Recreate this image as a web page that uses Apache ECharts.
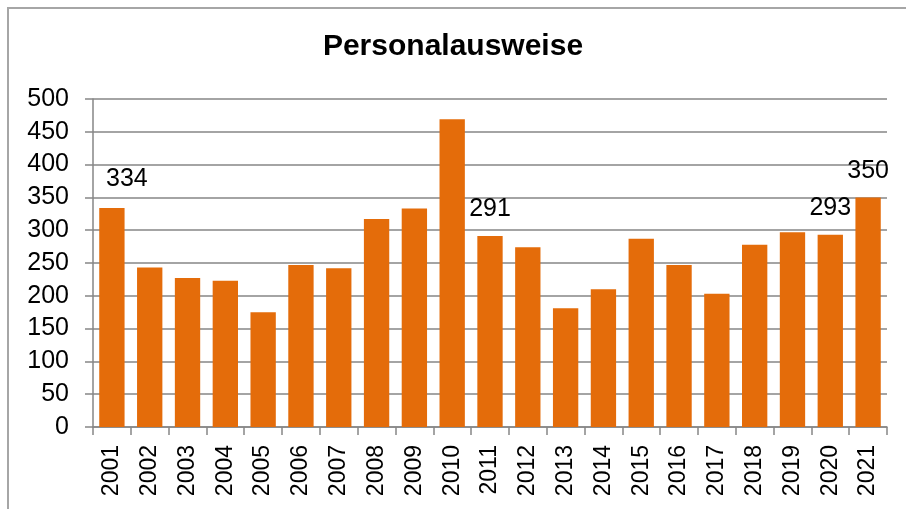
<!DOCTYPE html>
<html>
<head>
<meta charset="utf-8">
<title>Personalausweise</title>
<script src="https://cdn.jsdelivr.net/npm/echarts@6/dist/echarts.min.js"></script>
<style>
html,body{margin:0;padding:0;background:#fff;}
#main{width:906px;height:509px;}
</style>
</head>
<body>
<div id="main"></div>
<script>
var years = ['2001','2002','2003','2004','2005','2006','2007','2008','2009','2010','2011',
	'2012','2013','2014','2015','2016','2017','2018','2019','2020','2021'];
var values = [334,243,227,223,175,247,242,317,333,469,291,274,181,210,287,247,203,278,297,293,350];
// Jahre mit Beschriftung
var labeledYears = ['2001','2011','2020','2021'];
var yTicks = [0,50,100,150,200,250,300,350,400,450,500];

var barData = values.map(function(v, i){
	var item = {value: v};
	if (labeledYears.indexOf(years[i]) >= 0) {
		item.label = {show: true};
		if (years[i] === '2001') item.label.offset = [15, -2];
	}
	return item;
});

var myChart = echarts.init(document.getElementById('main'));
var option = {
	animation: false,
	textStyle: {fontFamily: 'Liberation Sans, Arial, sans-serif'},
	graphic: [{
		type: 'rect',
		shape: {x: 8, y: 8, width: 960, height: 560},
		style: {fill: 'none', stroke: '#a6a6a6', lineWidth: 2},
		silent: true
	}],
	title: {
		text: 'Personalausweise',
		left: 'center',
		top: 27,
		textStyle: {fontSize: 30, fontWeight: 'bold', color: '#000', fontFamily: 'Liberation Sans, Arial, sans-serif'}
	},
	grid: {left: 93, right: 19, top: 99, bottom: 82},
	xAxis: {
		type: 'category',
		data: years,
		axisLine: {lineStyle: {color: '#868686', width: 1.5}},
		axisTick: {show: true, length: 8, lineStyle: {color: '#868686', width: 1.5}},
		axisLabel: {rotate: 90, fontSize: 23, color: '#000', margin: 18}
	},
	yAxis: {
		type: 'value',
		min: yTicks[0],
		max: yTicks[yTicks.length - 1],
		interval: 50,
		axisLine: {show: true, lineStyle: {color: '#868686', width: 1.5}},
		axisTick: {show: true, inside: false, length: 8, lineStyle: {color: '#868686', width: 1.5}},
		splitLine: {lineStyle: {color: '#868686', width: 1.5}},
		axisLabel: {fontSize: 25, color: '#000', margin: 24}
	},
	series: [{
		type: 'bar',
		data: barData,
		barCategoryGap: '33%',
		itemStyle: {color: '#E46C0A'},
		label: {show: false, position: 'top', distance: 14, fontSize: 25, color: '#000'}
	}]
};
myChart.setOption(option);
</script>
</body>
</html>
